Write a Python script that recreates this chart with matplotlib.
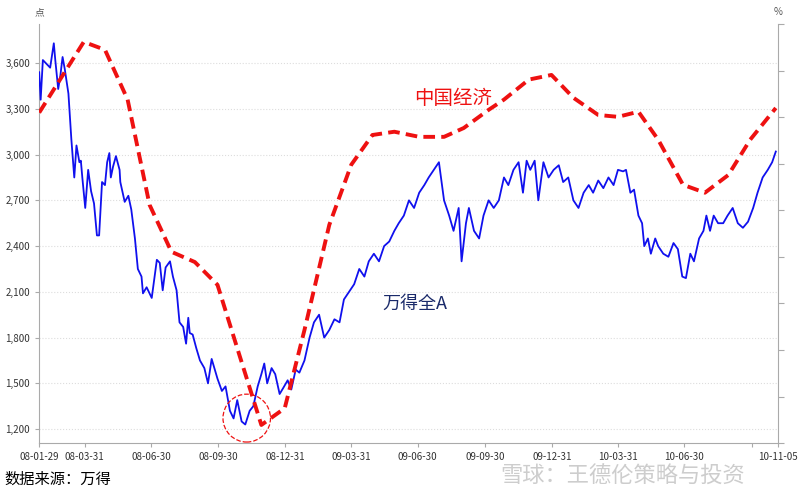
import matplotlib
matplotlib.use("Agg")
import matplotlib.pyplot as plt
import matplotlib.dates as mdates
from matplotlib.patches import Ellipse
import numpy as np
import datetime as dt

plt.rcParams['font.family'] = ['Noto Sans CJK SC', 'DejaVu Sans']

start = dt.date(2008, 1, 29)
# Wind All-A index: days since 2008-01-29, points
blue_days = [0,2,5,15,20,22,26,29,32,35,40,44,48,51,55,57,59,63,67,71,75,79,82,86,90,93,96,98,101,105,110,111,117,122,126,131,135,140,142,147,151,154,161,165,169,173,179,183,188,192,197,201,204,206,210,215,220,
             226,231,236,244,250,255,261,266,271,277,282,288,293,299,304,308,312,318,323,329,334,340,345,351,356,363,370,376,383,390,397,404,411,417,424,431,438,445,451,458,465,472,479,486,492,499,506,513,520,527,533,540,547,554,561,567,574,578,584,588,595,602,608,615,622,629,636,642,649,656,662,667,672,678,683,690,697,704,711,717,724,731,738,745,752,758,765,772,779,786,792,799,803,809,814,820,825,828,833,837,843,847,854,861,868,874,880,885,891,896,903,909,913,918,923,929,936,942,949,956,963,970,977,983,990,997,1003,1008]
blue_vals = [3540,3360,3620,3570,3730,3620,3430,3520,3640,3560,3400,3100,2850,3060,2950,2960,2850,2650,2900,2760,2680,2470,2470,2820,2800,2950,3010,2850,2920,2990,2900,2820,2690,2730,2640,2450,2250,2200,2090,2130,2090,2060,2310,2290,2110,2260,2300,2200,2110,1900,1870,1760,1930,1830,1820,1730,1650,
             1600,1500,1660,1530,1450,1480,1320,1270,1390,1250,1230,1320,1350,1480,1560,1630,1500,1600,1560,1430,1470,1520,1460,1590,1570,1650,1800,1900,1950,1800,1850,1920,1900,2050,2100,2150,2250,2200,2300,2350,2300,2400,2430,2500,2550,2600,2700,2650,2750,2800,2850,2900,2950,2700,2600,2500,2650,2300,2550,2650,2500,2450,2600,2700,2650,2700,2850,2800,2900,2950,2750,2960,2900,2960,2700,2950,2850,2900,2930,2820,2850,2700,2650,2750,2800,2750,2830,2780,2850,2800,2900,2890,2900,2750,2770,2600,2550,2400,2450,2350,2450,2400,2350,2330,2420,2380,2200,2190,2350,2300,2450,2500,2600,2500,2600,2550,2550,2600,2650,2550,2520,2560,2650,2750,2850,2900,2950,3020]
# China economy indicator (%), days since 2008-01-29
red_days = [0,61,90,121,151,181,213,244,274,304,336,363,397,427,456,486,520,554,581,615,636,670,701,731,765,792,820,847,881,911,943,973,1008]
red_vals = [7.10,8.62,8.45,7.38,5.12,4.11,3.89,3.40,1.89,0.39,0.75,2.43,4.69,5.98,6.62,6.69,6.58,6.58,6.77,7.16,7.38,7.81,7.91,7.42,7.05,7.01,7.12,6.52,5.55,5.38,5.76,6.52,7.20]

tick_dates = ["2008-01-29","2008-03-31","2008-06-30","2008-09-30","2008-12-31","2009-03-31","2009-06-30",
              "2009-09-30","2009-12-31","2010-03-31","2010-06-30","2010-09-30","2010-11-05"]
tick_labels = ["08-01-29","08-03-31","08-06-30","08-09-30","08-12-31","09-03-31","09-06-30",
               "09-09-30","09-12-31","10-03-31","10-06-30","","10-11-05"]
left_ticks = [1200,1500,1800,2100,2400,2700,3000,3300,3600]

bd = [start + dt.timedelta(days=d) for d in blue_days]
rd = [start + dt.timedelta(days=d) for d in red_days]

fig = plt.figure(figsize=(8, 4.94), dpi=100)
ax = fig.add_axes([0.049, 0.103, 0.9235, 0.848])
ax.plot(bd, blue_vals, color='#1010ee', lw=1.3, zorder=3)
ax.set_ylim(1108, 3855)
ax.set_xlim(start, start + dt.timedelta(days=1008))
ax.set_yticks(left_ticks)
ax.set_yticklabels([f"{v:,}" for v in left_ticks], fontsize=7, color='#333333')
ax.set_xticks([mdates.date2num(dt.date.fromisoformat(t)) for t in tick_dates])
ax.set_xticklabels(tick_labels, fontsize=7, color='#333333')
ax.grid(axis='y', color='#dddddd', ls=':', lw=0.8)
for s in ['top', 'right']:
    ax.spines[s].set_visible(False)
for s in ['left', 'bottom']:
    ax.spines[s].set_color('#aaaaaa')
ax.tick_params(colors='#aaaaaa', labelcolor='#333333', length=3)

ax2 = ax.twinx()
ax2.plot(rd, red_vals, color='#ee1111', lw=2.8, ls=(0, (3, 1.6)), zorder=4)
ax2.set_ylim(0, 9)
ax2.set_yticks(range(10))
ax2.set_yticklabels([])
for s in ['top', 'left', 'bottom']:
    ax2.spines[s].set_visible(False)
ax2.spines['right'].set_color('#aaaaaa')
ax2.tick_params(colors='#aaaaaa', length=4)

c = mdates.date2num(start + dt.timedelta(days=284))
ax.add_patch(Ellipse((c, 1272), 65, 314, fill=False, ec='#ee1111', ls='--', lw=0.9, zorder=5))

fig.text(0.049, 0.975, "点", fontsize=7, color='#555555', ha='center', va='center')
fig.text(0.972, 0.975, "%", fontsize=7, color='#555555', ha='center', va='center')
fig.text(0.518, 0.80, "中国经济", fontsize=14, color='#ee1111', va='center')
fig.text(0.478, 0.385, "万得全A", fontsize=13, color='#1a2a6a', va='center')
fig.text(0.006, 0.03, "数据来源：万得", fontsize=11, color='black', va='center')
fig.text(0.625, 0.035, "雪球：王德伦策略与投资", fontsize=16, color='#c8c8c8', va='center', alpha=0.9)

fig.savefig("out.png", dpi=100)
